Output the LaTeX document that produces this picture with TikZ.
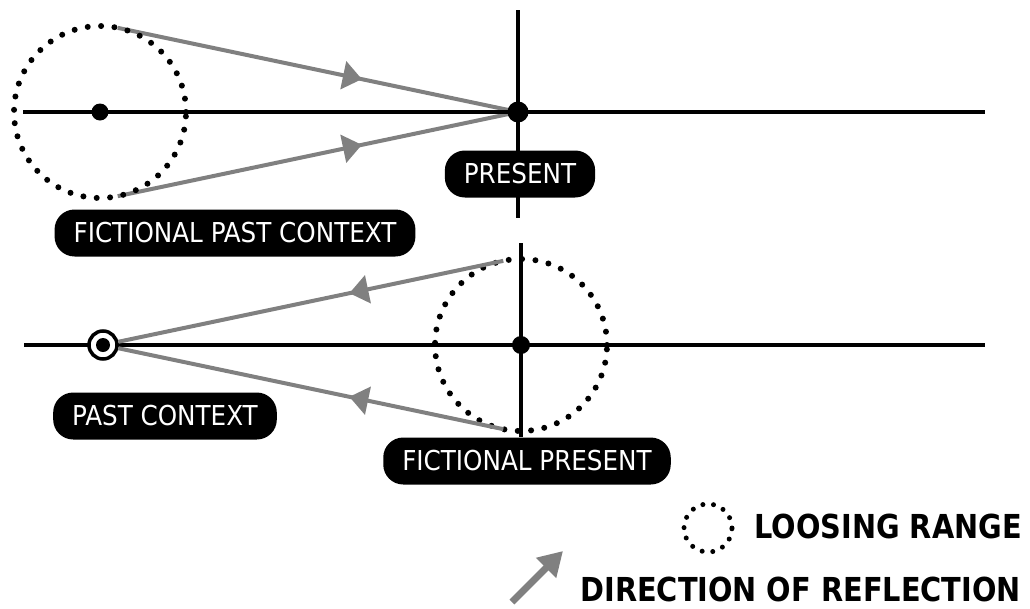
\documentclass[tikz,border=0pt]{standalone}
\usepackage{fontspec}
\setmainfont{DejaVu Sans Condensed}
\newfontfamily\legendfont[FakeStretch=0.97]{DejaVu Sans Condensed Bold}
\usetikzlibrary{arrows.meta, calc, decorations.markings, backgrounds}
\definecolor{refgray}{RGB}{128,128,128}

\begin{document}
\begin{tikzpicture}[
        x=1pt, y=-1pt,
        % Global Styles
        timeline/.style={draw, line width=3.5pt},
        loose/.style={circle, draw, line width=6pt, line cap=round, dash pattern=on 0pt off 13.4pt, minimum size=172pt, inner sep=0pt, outer sep=0pt},
        pdot/.style={circle, fill=black, inner sep=0pt, outer sep=0pt, minimum size=#1},
        tag/.style={rectangle, fill=black, text=white, rounded corners=20pt, minimum height=47pt, inner xsep=19pt, font=\fontsize{27.4}{30}\selectfont},
        legendtxt/.style={inner sep=0pt, font=\legendfont\fontsize{33}{38}\selectfont},
        reflect/.style={draw=refgray, line width=4pt, postaction={decorate}, decoration={markings, mark=at position #1 with {\arrow{Triangle[length=19pt,width=28pt]}}}}
    ]
    \useasboundingbox (0,0) rectangle (1030,608);

    % --- Top: fictional past context ---
    \coordinate (tl) at (23,112);
    \coordinate (tr) at (985,112);
    \coordinate (vt) at (518,10);
    \coordinate (vb) at (518,218);
    \draw [timeline] (tl) -- (tr);
    \draw [timeline] (vt) -- (vb);

    \node [loose] (fpc) at (100,112) {};
    \node [pdot=17pt] (fpcdot) at (100,112) {};
    \node [pdot=21pt] (present) at (518,112) {};

    \node [tag] (presentlbl) at (520,174) {PRESENT};
    \node [tag] (fpclbl) at (235,233) {FICTIONAL PAST CONTEXT};

    \begin{scope}[on background layer]
        \draw [reflect=0.61] (tangent cs:node=fpc, point={(present)}, solution=1) -- (present.center);
        \draw [reflect=0.61] (tangent cs:node=fpc, point={(present)}, solution=2) -- (present.center);
    \end{scope}

    % --- Bottom: fictional present ---
    \coordinate (bl) at (24,345);
    \coordinate (br) at (985,345);
    \coordinate (wt) at (521,243);
    \draw [timeline] (bl) -- (br);

    \node [tag] (fpreslbl) at (527,461) {FICTIONAL PRESENT};
    \node [tag] (pastlbl) at (165,416) {PAST CONTEXT};
    \draw [timeline] (wt) -- (wt |- fpreslbl.north);

    \node [loose] (fpres) at (521,345) {};
    \node [pdot=18pt] (fpresdot) at (521,345) {};
    \node [circle, draw, fill=white, line width=3.5pt, minimum size=28pt, inner sep=0pt] (pastctx) at (103,345) {};
    \node [pdot=14pt] at (pastctx) {};

    \draw [reflect=0.40] (tangent cs:node=fpres, point={(pastctx)}, solution=1) -- (pastctx);
    \draw [reflect=0.40] (tangent cs:node=fpres, point={(pastctx)}, solution=2) -- (pastctx);

    % --- Legend ---
    \node [loose, line width=5pt, dash pattern=on 0pt off 10.7pt, minimum size=48pt] (lrsym) at (708,528) {};
    \node [legendtxt, anchor=base east] (lrtxt) at (1022,538) {LOOSING RANGE};
    \coordinate (arrs) at (512,602);
    \coordinate (arre) at (563,551);
    \draw [draw=refgray, line width=7pt, -{Triangle[length=24pt,width=27pt]}] (arrs) -- (arre);
    \node [legendtxt, anchor=base east] (drtxt) at (1021,601) {DIRECTION OF REFLECTION};

\end{tikzpicture}
\end{document}
